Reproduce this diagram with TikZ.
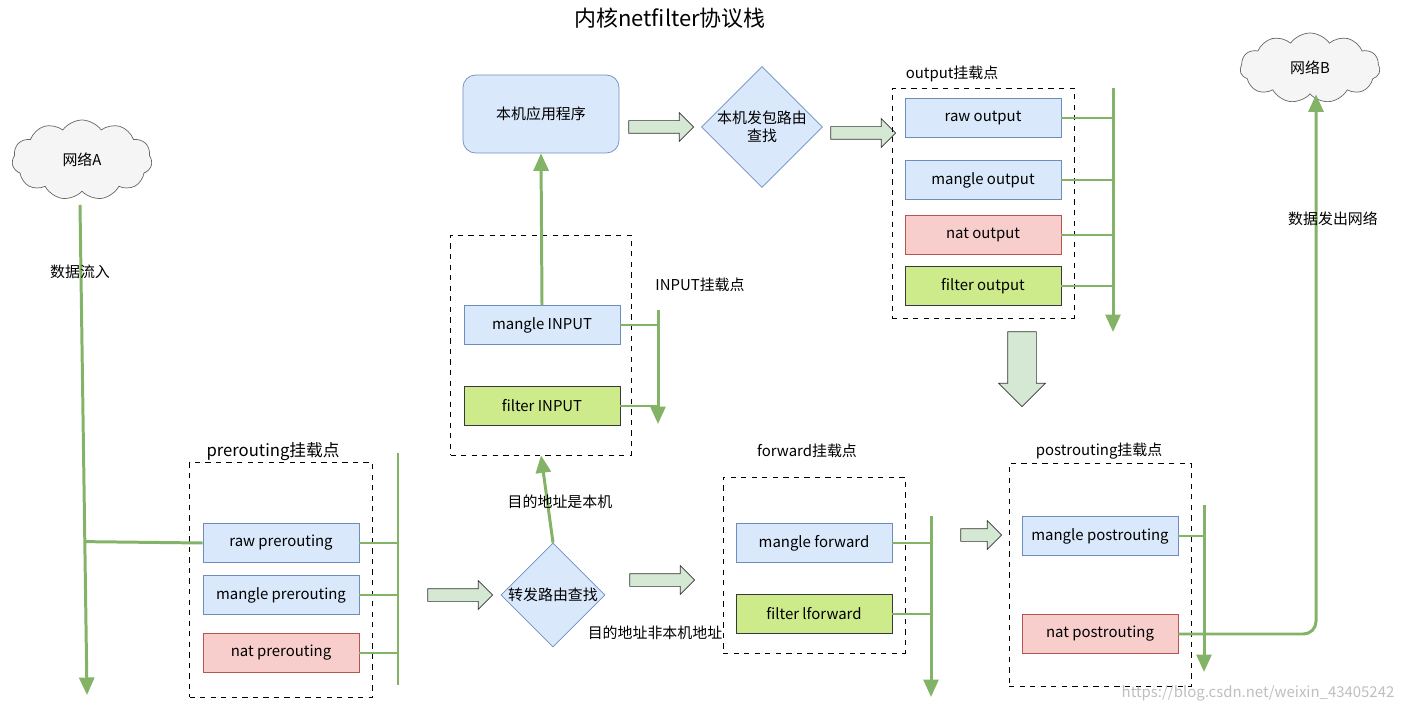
\documentclass[tikz,border=0pt]{standalone}
\usepackage{fontspec}
\setmainfont{Noto Sans CJK SC}
\usetikzlibrary{shapes,shapes.symbols,shapes.arrows,shapes.geometric,arrows.meta,positioning,calc}
\definecolor{bluefill}{HTML}{DAE8FC}
\definecolor{blueline}{HTML}{6C8EBF}
\definecolor{redfill}{HTML}{F8CECC}
\definecolor{redline}{HTML}{B85450}
\definecolor{limefill}{HTML}{CDEB8B}
\definecolor{limeline}{HTML}{36393D}
\definecolor{flow}{HTML}{82B366}
\definecolor{arrfill}{HTML}{D5E8D4}
\tikzset{
  txt/.style={font=\fontsize{8.5}{10}\selectfont},
  hook/.style={draw, txt, minimum width=3.12cm, minimum height=0.78cm, inner sep=0pt},
  hookblue/.style={hook, fill=bluefill, draw=blueline},
  hookred/.style={hook, fill=redfill, draw=redline},
  hooklime/.style={hook, fill=limefill, draw=limeline},
  group/.style={draw, dashed, minimum width=#1, inner sep=0pt},
  decide/.style={diamond, draw=blueline, fill=bluefill, txt, minimum width=2.08cm, minimum height=2.08cm, inner sep=0pt, align=center},
  net/.style={cloud, cloud puffs=11, cloud puff arc=110, aspect=1.6, draw=black!60, fill=black!4, txt, minimum width=2.8cm, minimum height=1.6cm},
  passon/.style={single arrow, draw=black!80, fill=arrfill, minimum height=1.3cm, inner sep=0.12cm, single arrow head extend=0.16cm},
  bus/.style={draw=flow, line width=1.7pt},
  busarrow/.style={bus, -{Triangle[length=0.35cm,width=0.3cm]}},
}
\begin{document}
\begin{tikzpicture}[x=0.02cm, y=-0.02cm]
  \useasboundingbox (0,0) rectangle (1402,712);
  \node[font=\fontsize{12.5}{14}\selectfont] (title) at (670,18) {内核netfilter协议栈};
  % clouds
  \node[net] (neta) at (82,160) {网络A};
  \node[net, minimum height=1.4cm] (netb) at (1310,68) {网络B};
  % prerouting
  \node[group=3.66cm, minimum height=4.7cm] (pre) at (281,580) {};
  \node[font=\fontsize{9.5}{11}\selectfont] at (273,452) {prerouting挂载点};
  \node[hookblue] (rawpre) at (281,543) {raw prerouting};
  \node[hookblue] (manglepre) at (281,595) {mangle prerouting};
  \node[hookred] (natpre) at (281,653) {nat prerouting};
  \coordinate (pretop) at (398,453);
  \coordinate (prebot) at (398,685);
  \draw[bus] (pretop) -- (prebot);
  \foreach \n in {rawpre,manglepre,natpre}
    \draw[bus] (\n.east) -- (\n.east -| pretop);
  % input flow
  \coordinate (atop) at (80,205);
  \coordinate (abot) at (87,695);
  \draw[busarrow] (atop) -- (abot);
  \node[txt] at (80,272) {数据流入};
  \draw[bus] ($(atop)!0.687!(abot)$) -- (rawpre.west);
  \node[passon] (s1) at (457,595) {};
  \node[decide] (route) at (553,595) {转发路由查找};
  % INPUT
  \node[group=3.62cm, minimum height=4.4cm] (inp) at (541,345) {};
  \node[txt] at (700,285) {INPUT挂载点};
  \node[hookblue] (mangleinp) at (542,325) {mangle INPUT};
  \node[hooklime] (filterinp) at (542,406) {filter INPUT};
  \coordinate (inptop) at (658,310);
  \draw[busarrow] (inptop) -- (658,424);
  \foreach \n in {mangleinp,filterinp}
    \draw[bus] (\n.east) -- (\n.east -| inptop);
  \draw[busarrow] (route.north) -- (inp.south);
  \node[txt] at (560,502) {目的地址是本机};
  \node[txt] at (655,633) {目的地址非本机地址};
  \node[draw=blueline, fill=bluefill, rounded corners=0.25cm, txt, minimum width=3.12cm, minimum height=1.56cm] (app) at (541,114) {本机应用程序};
  \draw[busarrow] (mangleinp.north) -- (app.south);
  \node[passon] (s2) at (658,127) {};
  \node[decide] (local) at (762,127) {本机发包路由\\查找};
  \node[passon] (s3) at (860,133) {};
  % output
  \node[group=3.64cm, minimum height=4.6cm] (outp) at (983,203) {};
  \node[txt] at (952,74) {output挂载点};
  \node[hookblue] (rawout) at (983,118) {raw output};
  \node[hookblue] (mangleout) at (983,180) {mangle output};
  \node[hookred] (natout) at (983,235) {nat output};
  \node[hooklime] (filterout) at (983,286) {filter output};
  \coordinate (outtop) at (1113,88);
  \draw[busarrow] (outtop) -- (1113,332);
  \foreach \n in {rawout,mangleout,natout,filterout}
    \draw[bus] (\n.east) -- (\n.east -| outtop);
  \node[passon, shape border rotate=270, minimum height=1.5cm, inner sep=0.28cm, single arrow head extend=0.18cm] (s4) at (1022,362) {};
  % forward
  \node[group=3.64cm, minimum height=3.52cm] (fwd) at (814,565) {};
  \node[txt] at (807,451) {forward挂载点};
  \node[hookblue] (manglefwd) at (814,543) {mangle forward};
  \node[hooklime] (filterfwd) at (814,614) {filter lforward};
  \coordinate (fwdtop) at (931,516);
  \draw[busarrow] (fwdtop) -- (931,697);
  \foreach \n in {manglefwd,filterfwd}
    \draw[bus] (\n.east) -- (\n.east -| fwdtop);
  \node[passon] (s5) at (659,580) {};
  \node[passon, minimum height=0.82cm] (s6) at (978,535) {};
  % postrouting
  \node[group=3.64cm, minimum height=4.46cm] (post) at (1100,575) {};
  \node[txt] at (1099,451) {postrouting挂载点};
  \node[hookblue] (manglepost) at (1100,536) {mangle postrouting};
  \node[hookred] (natpost) at (1100,634) {nat postrouting};
  \coordinate (posttop) at (1204,505);
  \draw[busarrow] (posttop) -- (1204,672);
  \draw[bus] (manglepost.east) -- (manglepost.east -| posttop);
  \draw[busarrow, rounded corners=0.25cm] (natpost.east) -- (1316,634) -- (netb.south -| 1316,0);
  \node[txt] at (1333,219) {数据发出网络};
  \node[txt, text=black!25] at (1258,693) {https://blog.csdn.net/weixin\_43405242};
\end{tikzpicture}
\end{document}
